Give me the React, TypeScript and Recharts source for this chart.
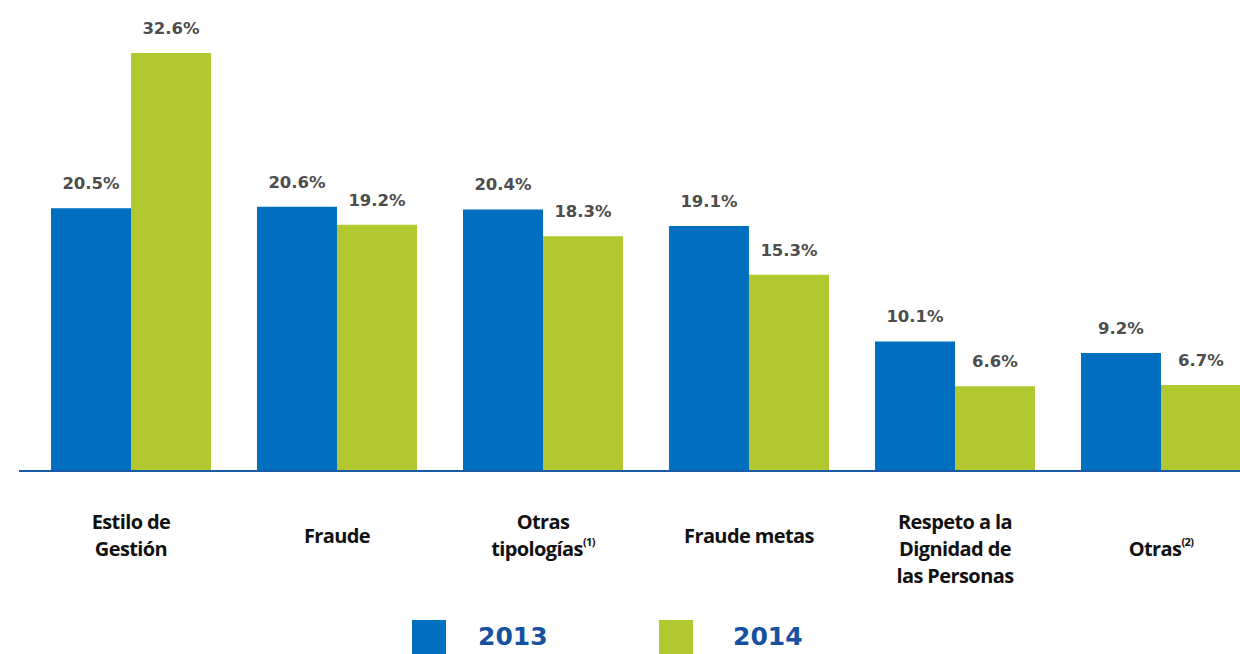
import React from 'react';
import { BarChart, Bar, XAxis, YAxis, LabelList } from 'recharts';

const categories = ['Estilo de\nGestión', 'Fraude', 'Otras\ntipologías', 'Fraude metas', 'Respeto a la\nDignidad de\nlas Personas', 'Otras'];
const footnotes = ['', '', '(1)', '', '', '(2)'];
const values2013 = [20.5, 20.6, 20.4, 19.1, 10.1, 9.2];
const values2014 = [32.6, 19.2, 18.3, 15.3, 6.6, 6.7];

const BLUE = '#006fc0';
const GREEN = '#b1c831';
const AXIS = '#1a5aa6';

const data = categories.map((name, i) => ({
    name,
    note: footnotes[i],
    y2013: values2013[i],
    y2014: values2014[i]
}));

// vertical placement tweak for a few tick labels
const tickShift = [0, 0, 0, 0, 0, 13];

const CategoryTick = (props: any) => {
    const { x, payload, index } = props;
    const lines: string[] = String(payload.value).split('\n');
    const note = footnotes[index] || '';
    const firstY = (lines.length === 1 ? 535 : 521) + (tickShift[index] || 0);
    return (
        <text
            x={x}
            y={firstY}
            textAnchor="middle"
            dominantBaseline="central"
            fill="#111"
            fontFamily="'Open Sans', sans-serif"
            fontWeight={700}
            fontSize={20}
            letterSpacing={-0.6}
        >
            {lines.map((line, i) => (
                <tspan key={i} x={x} y={firstY + i * 27}>
                    {line}
                    {i === lines.length - 1 && note ? (
                        <tspan fontSize={11} dy={-7}>{note}</tspan>
                    ) : null}
                </tspan>
            ))}
        </text>
    );
};

const fmt = (v: any) => Number(v).toFixed(1) + '%';

const labelStyle = { fill: '#4d4d4d', fontFamily: "'DejaVu Sans', sans-serif", fontWeight: 700, fontSize: 16.5 };

export default function App() {
    return (
        <div style={{ position: 'absolute', left: 0, top: 0, width: 1240, height: 654, overflow: 'hidden', background: '#fff' }}>
            <BarChart
                width={1300}
                height={654}
                data={data}
                margin={{ top: 53, right: 36, left: 19, bottom: 0 }}
                barGap={0}
                barSize={80}
            >
                <XAxis
                    dataKey="name"
                    height={183}
                    padding={{ left: 9, right: 0 }}
                    axisLine={{ stroke: AXIS, strokeWidth: 2 }}
                    tickLine={false}
                    interval={0}
                    tick={<CategoryTick />}
                />
                <YAxis hide domain={[0, 32.6]} />
                <Bar dataKey="y2013" fill={BLUE} isAnimationActive={false}>
                    <LabelList dataKey="y2013" position="top" offset={19} formatter={fmt} style={labelStyle} />
                </Bar>
                <Bar dataKey="y2014" fill={GREEN} isAnimationActive={false}>
                    <LabelList dataKey="y2014" position="top" offset={19} formatter={fmt} style={labelStyle} />
                </Bar>
            </BarChart>
            <div style={{ position: 'absolute', left: 412, top: 620, width: 34, height: 34, background: BLUE }} />
            <div style={{ position: 'absolute', left: 478, top: 619, lineHeight: '36px', fontFamily: "'DejaVu Sans', sans-serif", fontWeight: 700, fontSize: 25, color: '#1650a0' }}>2013</div>
            <div style={{ position: 'absolute', left: 659, top: 620, width: 34, height: 34, background: GREEN }} />
            <div style={{ position: 'absolute', left: 733, top: 619, lineHeight: '36px', fontFamily: "'DejaVu Sans', sans-serif", fontWeight: 700, fontSize: 25, color: '#1650a0' }}>2014</div>
        </div>
    );
}
